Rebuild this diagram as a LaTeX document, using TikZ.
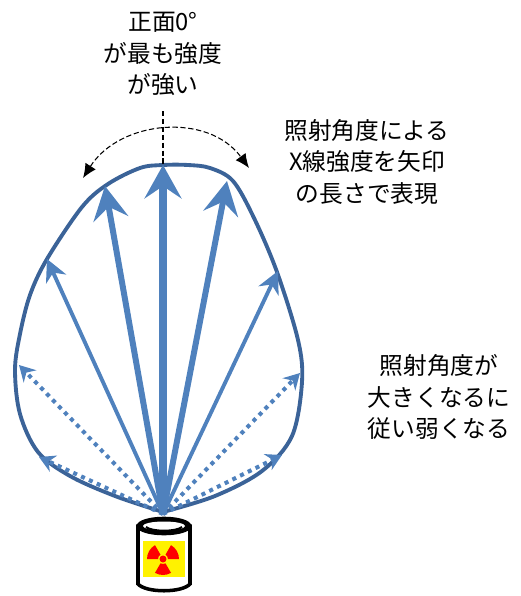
\documentclass[tikz,border=0pt]{standalone}
\usepackage{fontspec}
\setmainfont{Noto Sans CJK JP}
\usepackage{xcolor}
\usetikzlibrary{arrows.meta,calc}
\definecolor{rayblue}{HTML}{4F81BD}
\definecolor{lobeblue}{HTML}{3B6398}

\begin{document}
\begin{tikzpicture}[x=0.02cm, y=-0.02cm,
  note/.style={align=center, inner sep=0pt, font=\fontsize{13.5}{18}\selectfont},
  lobe/.style={draw=lobeblue, line width=2.2pt, line join=round},
  mainray/.style={draw=rayblue, line width=4pt, -{Stealth[length=19pt, width=21pt, inset=7pt]}},
  ray/.style={draw=rayblue, line width=3.4pt, -{Stealth[length=19pt, width=20pt, inset=7pt]}},
  sideray/.style={draw=rayblue, line width=2.2pt, -{Stealth[length=12.5pt, width=12.5pt, inset=4pt]}},
  dotray/.style={draw=rayblue, line width=2.3pt, dash pattern=on 2.3pt off 2.6pt, -{Stealth[length=9pt, width=10pt, inset=3pt]}},
  swing/.style={draw=black, line width=0.6pt, dash pattern=on 3pt off 1.5pt}]
\useasboundingbox (0,0) rectangle (521,596);

% texts
\node[note] (front) at (163,54) {正面0°\\が最も強度\\が強い};
\node[note] (method) at (367,162) {照射角度による\\X線強度を矢印\\の長さで表現};
\node[note] (falloff) at (439,397) {照射角度が\\大きくなるに\\従い弱くなる};

% source and arrow tips
\coordinate (src) at (163,514);
\coordinate (tipC) at (163,165);
\coordinate (tipL1) at (105,186);
\coordinate (tipR1) at (227,181);
\coordinate (tipL2) at (47,259);
\coordinate (tipR2) at (278,271);
\coordinate (tipL3) at (19,365);
\coordinate (tipR3) at (300,373);
\coordinate (tipL4) at (39,457);
\coordinate (tipR4) at (282,455);

% intensity envelope
\draw[lobe] plot[smooth, tension=0.55] coordinates {(163,512) (115,496) (70,476) (38,452) (20,414) (15,370) (20,334) (30,295) (47,259) (82,207) (108,184) (140,168) (163,165) (188,165) (210,168) (233,181) (254,218) (277,272) (298,340) (302,382) (292,436) (262,471) (215,496) (163,512)};

% rays
\draw[dotray] (src) -- (tipL4);
\draw[dotray] (src) -- (tipR4);
\draw[dotray] (src) -- (tipL3);
\draw[dotray] (src) -- (tipR3);
\draw[sideray] (src) -- (tipL2);
\draw[sideray] (src) -- (tipR2);
\draw[ray] (src) -- (tipL1);
\draw[ray] (src) -- (tipR1);
\draw[mainray] (src) -- (tipC);

% angle swing
\coordinate (axis) at (163,111);
\coordinate (swingL) at (83,178);
\coordinate (swingR) at (249,168);
\draw[swing] (axis) -- (tipC);
\draw[swing, {Latex[length=8pt, width=7pt]}-{Latex[length=8pt, width=7pt]}] (swingL) .. controls (120,120) and (208,112) .. (swingR);

% source container
\filldraw[fill=white, draw=black, line width=2pt] (138,526) -- (138,584) .. controls (146,593) and (182,593) .. (190,584) -- (190,526) -- cycle;
\filldraw[fill=black, draw=black, line width=1.5pt] (164,526) ellipse [x radius=26, y radius=8];
\fill[white] (164,526) ellipse [x radius=21, y radius=4.5];
\draw[black, line width=1.2pt] (146,527) .. controls (152,532) and (176,532) .. (182,527);
\fill[yellow] (143,541) rectangle (185,577);
\coordinate (mark) at (163,559);
\foreach \a in {90,210,330}
  \fill[red] ($(mark)+(\a-30:5)$) -- ($(mark)+(\a-30:16)$) arc[start angle=\a-30, end angle=\a+30, radius=16] -- ($(mark)+(\a+30:5)$) arc[start angle=\a+30, end angle=\a-30, radius=5] -- cycle;
\fill[red] (mark) circle [radius=3.5];
\end{tikzpicture}
\end{document}
